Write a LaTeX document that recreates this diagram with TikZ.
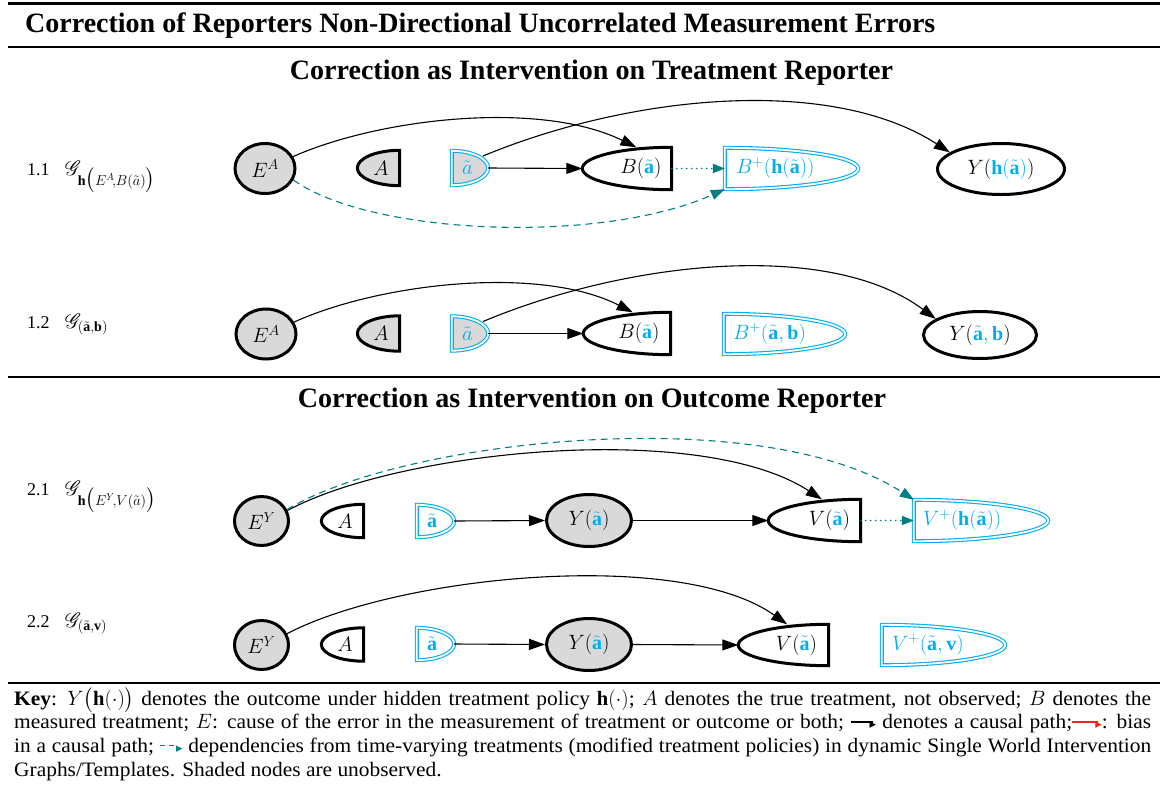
\documentclass[tikz,border=0pt]{standalone}
\usepackage{amsmath}
\usepackage{mathrsfs}
\usepackage{graphicx}
\usepackage{fontspec}
\setmainfont{Liberation Serif}
\newfontfamily\keyfont{Liberation Serif}[FakeStretch=1.045]
\newfontfamily\symbolfont{DejaVu Sans}
\usetikzlibrary{shapes.geometric,arrows.meta,calc,backgrounds}

\definecolor{cyanc}{RGB}{0,174,239}
\definecolor{tealc}{RGB}{0,128,128}
\definecolor{shadec}{RGB}{217,217,217}
\definecolor{biasred}{RGB}{255,30,30}

% coloured pieces of node labels
\newcommand\cy[1]{\textcolor{cyanc}{#1}}
\newcommand\ta{\tilde{\mathbf{a}}}
% text pushed against the flat side of a half-rounded node
\newcommand\padR[3]{\makebox[#1][r]{#3\hspace*{#2}}}
\newcommand\padL[3]{\makebox[#1][l]{\hspace*{#2}#3}}
% outline: flat right side, half ellipse on the left
\newcommand\flatright[2]{\path[#2] let \p1=(#1.north east), \p2=(#1.south west) in
  (#1.north east) -- (#1.south east)
  arc[start angle=-90, end angle=-270, x radius={\x1-\x2}, y radius={0.5*(\y1-\y2)}] -- cycle;}
% outline: flat left side, half ellipse on the right
\newcommand\flatleft[2]{\path[#2] let \p1=(#1.north east), \p2=(#1.south west) in
  (#1.south west) -- (#1.north west)
  arc[start angle=90, end angle=-90, x radius={\x1-\x2}, y radius={0.5*(\y1-\y2)}] -- cycle;}
% small arrows used inside the key
\newcommand\keyarrow[2]{{\color{#1}\rule[0.3em]{#2}{1.1pt}\kern-3pt\raisebox{0.02em}{\symbolfont\fontsize{13}{13}\selectfont ▸}}}
\newcommand\keydash{{\color{tealc}\rule[0.3em]{5pt}{1.1pt}\kern4pt\rule[0.3em]{5pt}{1.1pt}\kern2pt\raisebox{0.02em}{\symbolfont\fontsize{13}{13}\selectfont ▸}}}

\begin{document}
\begin{tikzpicture}[x=1pt, y=-1pt,
  lbl/.style={inner sep=0pt, font=\fontsize{18}{22}\selectfont},
  glbl/.style={inner sep=0pt, font=\fontsize{20}{24}\selectfont},
  nd/.style={inner sep=0pt, font=\fontsize{20}{24}\selectfont},
  ell/.style={nd, ellipse, draw, line width=3pt},
  hole/.style={nd, rectangle},
  blkline/.style={draw=black, line width=3pt},
  cyline/.style={draw=cyanc, line width=1.1pt, double=white, double distance=1.8pt},
  greyfill/.style={fill=shadec},
  whitefill/.style={fill=white},
  causal/.style={line width=1.1pt, -{Triangle[length=16pt,width=11pt]}},
  swig/.style={draw=tealc, line width=1.1pt, dash pattern=on 7pt off 5pt, -{Triangle[length=14pt,width=10pt]}, tealc},
  reported/.style={tealc, line width=1.8pt, dash pattern=on 0pt off 5pt, line cap=round, -{Triangle[length=12pt,width=9pt]}},
  heading/.style={inner sep=0pt, anchor=base}
]
\useasboundingbox (0,0) rectangle (1165,796);

% rules of the table
\draw[line width=2.2pt] (8,3.5) -- (1160,3.5);
\draw[line width=1.3pt] (8,47) -- (1160,47);
\draw[line width=1.3pt] (8,377) -- (1160,377);
\draw[line width=2.2pt] (8,683) -- (1160,683);

% headings
\node[heading, anchor=base west] (title) at (25,32)
  {\resizebox{910pt}{!}{\bfseries Correction of Reporters Non-Directional Uncorrelated Measurement Errors}};
\node[heading] (head1) at (591.5,79)
  {\resizebox{603pt}{!}{\bfseries Correction as Intervention on Treatment Reporter}};
\node[heading] (head2) at (592,407)
  {\resizebox{588pt}{!}{\bfseries Correction as Intervention on Outcome Reporter}};

% row labels
\node[lbl, anchor=base west] (n11) at (27,175) {1.1};
\node[glbl, anchor=base west] (g11) at (65,175) {$\mathscr{G}_{\mathbf{h}\bigl({\scriptstyle E^{A}\!,B(\tilde a)}\bigr)}$};
\node[lbl, anchor=base west] (n12) at (27,328) {1.2};
\node[glbl, anchor=base west] (g12) at (65,328) {$\mathscr{G}_{(\tilde{\mathbf a},\mathbf b)}$};
\node[lbl, anchor=base west] (n21) at (27,495) {2.1};
\node[glbl, anchor=base west] (g21) at (65,495) {$\mathscr{G}_{\mathbf{h}\bigl({\scriptstyle E^{Y}\!,V(\tilde a)}\bigr)}$};
\node[lbl, anchor=base west] (n22) at (27,627) {2.2};
\node[glbl, anchor=base west] (g22) at (65,627) {$\mathscr{G}_{(\tilde{\mathbf a},\mathbf v)}$};

% ---- 1.1
\node[ell, fill=shadec, minimum width=60pt, minimum height=50pt] (EA1) at (265,168.5) {$E^{A}$};
\node[hole, minimum height=35pt] (A1) at (378.5,168) {\padR{42pt}{11pt}{$A$}};
\node[hole, minimum height=34pt] (at1) at (470,168) {\padL{36pt}{10pt}{$\cy{\tilde a}$}};
\node[hole, minimum height=42pt] (B1) at (627,168.5) {\padR{89pt}{10pt}{$B(\cy{\ta})$}};
\node[hole, minimum height=41pt] (Bp1) at (791.5,168.5) {\padL{133pt}{11pt}{\color{cyanc}$B^{+}(\mathbf{h}(\ta))$}};
\node[ell, fill=white, minimum width=127pt, minimum height=51pt] (Y1) at (1001,169) {$Y(\cy{\mathbf{h}(\ta)})$};

% ---- 1.2
\node[ell, fill=shadec, minimum width=60pt, minimum height=50pt] (EA2) at (266,334) {$E^{A}$};
\node[hole, minimum height=35pt] (A2) at (378.5,333.5) {\padR{42pt}{11pt}{$A$}};
\node[hole, minimum height=34pt] (at2) at (470,333.5) {\padL{36pt}{10pt}{$\cy{\tilde a}$}};
\node[hole, minimum height=42pt] (B2) at (627,333.5) {\padR{87pt}{11pt}{$B(\cy{\ta})$}};
\node[hole, minimum height=40pt] (Bp2) at (784.5,334) {\padL{121pt}{9pt}{\color{cyanc}$B^{+}(\ta,\mathbf{b})$}};
\node[ell, fill=white, minimum width=113pt, minimum height=47pt] (Y2) at (980,335) {$Y(\cy{\ta,\mathbf{b}})$};

% ---- 2.1
\node[ell, fill=shadec, minimum width=54pt, minimum height=49pt] (EY1) at (261.5,521) {$E^{Y}$};
\node[hole, minimum height=33pt] (A3) at (342.5,521) {\padR{42pt}{11pt}{$A$}};
\node[hole, minimum height=32pt] (at3) at (435.5,521) {\padL{37pt}{10pt}{$\cy{\ta}$}};
\node[ell, fill=shadec, minimum width=85pt, minimum height=52pt] (Y3) at (589,520.5) {$Y(\cy{\ta})$};
\node[hole, minimum height=42pt] (V3) at (814.5,520.5) {\padR{92pt}{10.5pt}{$V(\cy{\ta})$}};
\node[hole, minimum height=41pt] (Vp3) at (981,520.5) {\padL{134pt}{9pt}{\color{cyanc}$V^{+}(\mathbf{h}(\ta))$}};

% ---- 2.2
\node[ell, fill=shadec, minimum width=54pt, minimum height=49pt] (EY2) at (261.5,645) {$E^{Y}$};
\node[hole, minimum height=33pt] (A4) at (342.5,644.5) {\padR{42pt}{11pt}{$A$}};
\node[hole, minimum height=32pt] (at4) at (435.5,644) {\padL{37pt}{10pt}{$\cy{\ta}$}};
\node[ell, fill=shadec, minimum width=85pt, minimum height=52pt] (Y4) at (589,644.5) {$Y(\cy{\ta})$};
\node[hole, minimum height=41pt] (V4) at (783.5,645) {\padR{90pt}{11.5pt}{$V(\cy{\ta})$}};
\node[hole, minimum height=40pt] (Vp4) at (943.5,645) {\padL{123pt}{10pt}{\color{cyanc}$V^{+}(\ta,\mathbf{v})$}};

% page background and half-rounded outlines behind the labels
\begin{scope}[on background layer]
  \fill[white] (0,0) rectangle (1165,796);
  \flatright{A1}{blkline, greyfill}
  \flatleft{at1}{cyline, greyfill}
  \flatright{B1}{blkline, whitefill}
  \flatleft{Bp1}{cyline, whitefill}
  \flatright{A2}{blkline, greyfill}
  \flatleft{at2}{cyline, greyfill}
  \flatright{B2}{blkline, whitefill}
  \flatleft{Bp2}{cyline, whitefill}
  \flatright{A3}{blkline, whitefill}
  \flatleft{at3}{cyline, whitefill}
  \flatright{V3}{blkline, whitefill}
  \flatleft{Vp3}{cyline, whitefill}
  \flatright{A4}{blkline, whitefill}
  \flatleft{at4}{cyline, whitefill}
  \flatright{V4}{blkline, whitefill}
  \flatleft{Vp4}{cyline, whitefill}
\end{scope}

% ---- connectors 1.1
\draw[causal] (EA1.23) .. controls (380,118) and (540,100) .. (B1.66);
\draw[causal] ([shift={(13,-12)}]at1.center) .. controls (630,95) and (830,75) .. (Y1.162);
\draw[swig] (EA1.-22) .. controls (370,235) and (600,245) .. (Bp1.south west);
\draw[causal] (at1.east) -- (B1.west);
\draw[reported] (B1.east) -- (Bp1.west);

% ---- connectors 1.2
\draw[causal] (EA2.23) .. controls (380,283) and (540,265) .. (B2.75);
\draw[causal] ([shift={(13,-12)}]at2.center) .. controls (630,260) and (830,240) .. (Y2.160);
\draw[causal] (at2.east) -- (B2.west);

% ---- connectors 2.1
\draw[causal] (EY1.22) .. controls (400,450) and (700,420) .. (V3.71);
\draw[swig] (EY1.24) .. controls (400,440) and (760,400) .. (Vp3.north west);
\draw[causal] (at3.east) -- (Y3.west);
\draw[causal] (Y3.east) -- (V3.west);
\draw[reported] (V3.east) -- (Vp3.west);

% ---- connectors 2.2
\draw[causal] (EY2.24) .. controls (400,575) and (680,548) .. (V4.80);
\draw[causal] (at4.east) -- (Y4.west);
\draw[causal] (Y4.east) -- (V4.west);

% key
\node[inner sep=0pt, anchor=base west, text width=1137pt, align=justify,
      font=\keyfont\fontsize{20.5}{23.7}\selectfont] (key) at (14,705)
{\textbf{Key}: $Y\bigl(\mathbf{h}(\cdot)\bigr)$ denotes the outcome under hidden treatment policy $\mathbf{h}(\cdot)$; $A$ denotes the true treatment, not observed; $B$ denotes the\linebreak
measured treatment; $E$: cause of the error in the measurement of treatment or outcome or both; \keyarrow{black}{22pt} denotes a causal path;\keyarrow{biasred}{26pt}: bias\linebreak
in a causal path; \keydash\ dependencies from time-varying treatments (modified treatment policies) in dynamic Single World Intervention\linebreak
Graphs/Templates. Shaded nodes are unobserved.};
\end{tikzpicture}
\end{document}
